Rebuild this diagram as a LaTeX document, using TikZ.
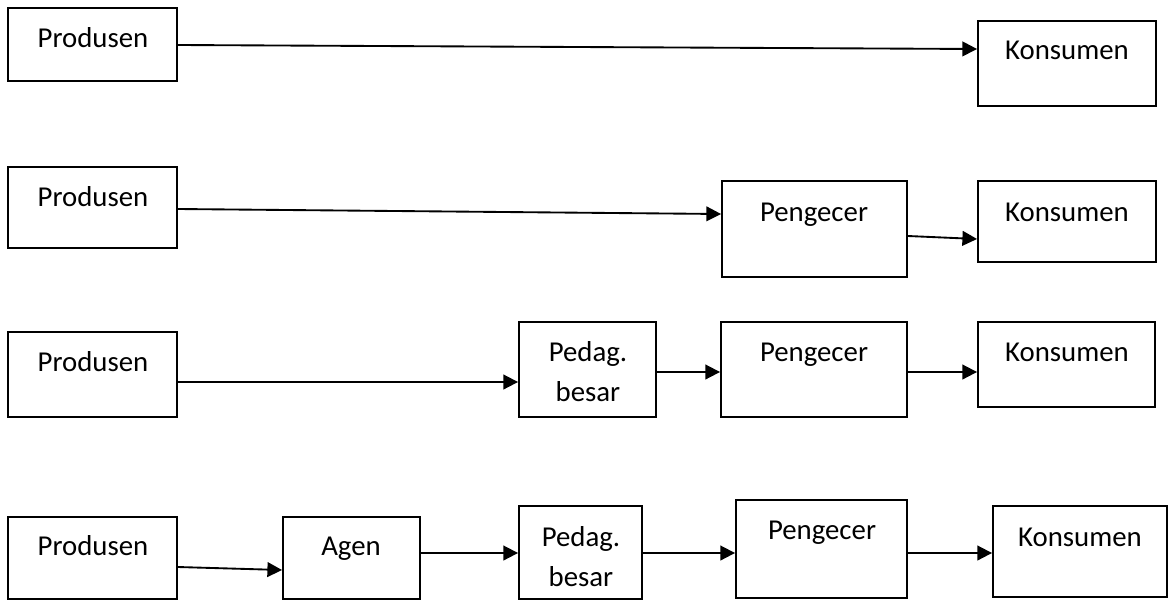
\documentclass[tikz,border=0pt]{standalone}
\usepackage{fontspec}
\setmainfont{Carlito}
\usetikzlibrary{arrows.meta,fit}
\begin{document}
\begin{tikzpicture}[x=0.75pt,y=-0.75pt,
  box/.style={draw, line width=1.4pt, inner sep=0pt, fit={#1}},
  lbl/.style={inner sep=0pt, anchor=base, font=\fontsize{21.6pt}{30pt}\selectfont},
  arr/.style={line width=1.4pt, -{Triangle[length=11pt,width=11pt]}}]
\useasboundingbox (0,0) rectangle (1169,600);

% channel 1: producer to consumer
\node[box={(8,8)(177,81)}] (p1) {};
\node[box={(978,21)(1156,106)}] (k1) {};
\node[lbl] (tp1) at (93,47) {Produsen};
\node[lbl] (tk1) at (1067,59) {Konsumen};
\draw[arr] (p1.east |- 0,45) -- (k1.west |- 0,49);

% channel 2: via retailer
\node[box={(8,167)(177,248)}] (p2) {};
\node[box={(722,181)(907,277)}] (g2) {};
\node[box={(978,181)(1156,262)}] (k2) {};
\node[lbl] (tp2) at (93,206) {Produsen};
\node[lbl] (tg2) at (814,221) {Pengecer};
\node[lbl] (tk2) at (1067,221) {Konsumen};
\draw[arr] (p2.east |- 0,209) -- (g2.west |- 0,214);
\draw[arr] (g2.east |- 0,236) -- (k2.west |- 0,239);

% channel 3: via wholesaler and retailer
\node[box={(8,332)(177,417)}] (p3) {};
\node[box={(519,322)(656,417)}] (b3) {};
\node[box={(721,322)(907,417)}] (g3) {};
\node[box={(978,322)(1155,407)}] (k3) {};
\node[lbl] (tp3) at (93,371) {Produsen};
\node[lbl] (tb3a) at (588,361) {Pedag.};
\node[lbl] (tb3b) at (588,401) {besar};
\node[lbl] (tg3) at (814,361) {Pengecer};
\node[lbl] (tk3) at (1067,361) {Konsumen};
\draw[arr] (p3.east |- 0,382) -- (b3.west |- 0,382);
\draw[arr] (b3.east |- 0,372) -- (g3.west |- 0,372);
\draw[arr] (g3.east |- 0,372) -- (k3.west |- 0,372);

% channel 4: via agent, wholesaler and retailer
\node[box={(8,517)(177,599)}] (p4) {};
\node[box={(283,517)(420,599)}] (a4) {};
\node[box={(519,506)(642,599)}] (b4) {};
\node[box={(736,500)(907,598)}] (g4) {};
\node[box={(993,506)(1167,597)}] (k4) {};
\node[lbl] (tp4) at (93,555) {Produsen};
\node[lbl] (ta4) at (351,555) {Agen};
\node[lbl] (tb4a) at (581,546) {Pedag.};
\node[lbl] (tb4b) at (581,586) {besar};
\node[lbl] (tg4) at (822,539) {Pengecer};
\node[lbl] (tk4) at (1080,546) {Konsumen};
\draw[arr] (p4.east |- 0,567) -- (a4.west |- 0,570);
\draw[arr] (a4.east |- 0,553) -- (b4.west |- 0,553);
\draw[arr] (b4.east |- 0,553) -- (g4.west |- 0,553);
\draw[arr] (g4.east |- 0,553) -- (k4.west |- 0,553);
\end{tikzpicture}
\end{document}
